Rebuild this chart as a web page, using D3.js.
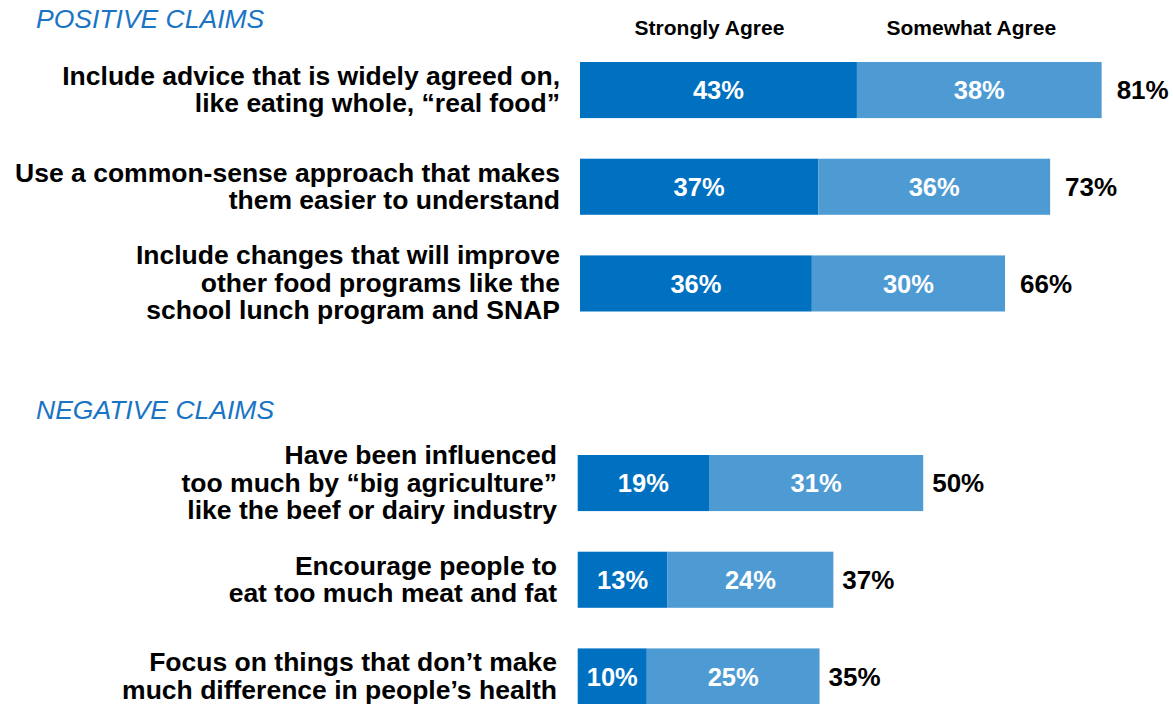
<!DOCTYPE html>
<html>
<head>
<meta charset="utf-8">
<script src="https://cdn.jsdelivr.net/npm/d3@7"></script>
<style>
  html, body { margin: 0; padding: 0; background: #fff; }
  svg { display: block; font-family: "Liberation Sans", Arial, sans-serif; }
</style>
</head>
<body>
<svg id="chart" width="1173" height="704"></svg>
<script>
// Survey responses: share agreeing with each statement about dietary guidelines
const seriesNames = ["Strongly Agree", "Somewhat Agree"];

const positiveLabels = [
  ["Include advice that is widely agreed on,", "like eating whole, \u201creal food\u201d"],
  ["Use a common-sense approach that makes", "them easier to understand"],
  ["Include changes that will improve", "other food programs like the", "school lunch program and SNAP"]
];
const positiveStrongly = [43, 37, 36];
const positiveSomewhat = [38, 36, 30];
const positiveTotal = [81, 73, 66];

const negativeLabels = [
  ["Have been influenced", "too much by \u201cbig agriculture\u201d", "like the beef or dairy industry"],
  ["Encourage people to", "eat too much meat and fat"],
  ["Focus on things that don\u2019t make", "much difference in people\u2019s health"]
];
const negativeStrongly = [19, 13, 10];
const negativeSomewhat = [31, 24, 25];
const negativeTotal = [50, 37, 35];

const colors = { strong: "#0070c0", somewhat: "#4e9bd4", title: "#1a74c4" };

const svg = d3.select("#chart");

function drawSection(cfg) {
  const n = cfg.labels.length;
  const x = d3.scaleLinear().domain([0, 100]).range(cfg.xRange);
  const y = d3.scaleBand().domain(d3.range(n)).range(cfg.yRange).paddingInner(0.42).paddingOuter(0);
  const g = svg.append("g");

  // section heading
  g.append("text")
    .attr("x", 36).attr("y", cfg.titleY)
    .attr("fill", colors.title)
    .attr("font-size", 26.5).attr("font-style", "italic")
    .text(cfg.title);

  const rows = d3.range(n).map(i => ({
    i,
    label: cfg.labels[i],
    segs: [
      { key: "strong", start: 0, value: cfg.strongly[i] },
      { key: "somewhat", start: cfg.strongly[i], value: cfg.somewhat[i] }
    ],
    total: cfg.total[i]
  }));

  const row = g.selectAll("g.row").data(rows).join("g").attr("class", "row");

  // category labels, right aligned beside the bars
  row.append("text")
    .attr("text-anchor", "end")
    .attr("font-size", 26.5).attr("font-weight", "bold").attr("fill", "#000")
    .each(function(d) {
      const cy = y(d.i) + y.bandwidth() / 2 - 1;
      const lh = 27.5;
      const first = cy - (d.label.length - 1) * lh / 2;
      d3.select(this).selectAll("tspan").data(d.label).join("tspan")
        .attr("x", cfg.labelX)
        .attr("y", (t, k) => first + k * lh)
        .attr("dy", "0.36em")
        .text(t => t);
    });

  // stacked segments
  const seg = row.selectAll("g.seg").data(d => d.segs.map(s => ({ ...s, i: d.i }))).join("g").attr("class", "seg");
  seg.append("rect")
    .attr("x", s => x(s.start))
    .attr("y", s => y(s.i))
    .attr("width", s => x(s.start + s.value) - x(s.start))
    .attr("height", y.bandwidth())
    .attr("fill", s => colors[s.key]);
  seg.append("text")
    .attr("x", s => (x(s.start) + x(s.start + s.value)) / 2)
    .attr("y", s => y(s.i) + y.bandwidth() / 2)
    .attr("dy", "0.36em")
    .attr("text-anchor", "middle")
    .attr("font-size", 25.5).attr("font-weight", "bold").attr("fill", "#fff")
    .text(s => s.value + "%");

  // totals
  row.append("text")
    .attr("x", d => x(d.total) + cfg.totalGap)
    .attr("y", d => y(d.i) + y.bandwidth() / 2)
    .attr("dy", "0.36em")
    .attr("font-size", 26).attr("font-weight", "bold").attr("fill", "#000")
    .text(d => d.total + "%");

  return { x, y };
}

const pos = drawSection({
  title: "POSITIVE CLAIMS", titleY: 28,
  labels: positiveLabels, strongly: positiveStrongly, somewhat: positiveSomewhat, total: positiveTotal,
  xRange: [580, 580 + 644], yRange: [62, 311.5], labelX: 560, totalGap: 15
});

drawSection({
  title: "NEGATIVE CLAIMS", titleY: 419,
  labels: negativeLabels, strongly: negativeStrongly, somewhat: negativeSomewhat, total: negativeTotal,
  xRange: [577.7, 577.7 + 691], yRange: [455, 704.5], labelX: 557, totalGap: 9
});

// column headers above the first bar's segments
const headerCenters = [
  (pos.x(0) + pos.x(positiveStrongly[0])) / 2 - 9,
  (pos.x(positiveStrongly[0]) + pos.x(positiveTotal[0])) / 2 - 8
];
svg.append("g").selectAll("text").data(seriesNames).join("text")
  .attr("x", (d, i) => headerCenters[i])
  .attr("y", 35)
  .attr("text-anchor", "middle")
  .attr("font-size", 21).attr("font-weight", "bold").attr("fill", "#000")
  .text(d => d);
</script>
</body>
</html>
